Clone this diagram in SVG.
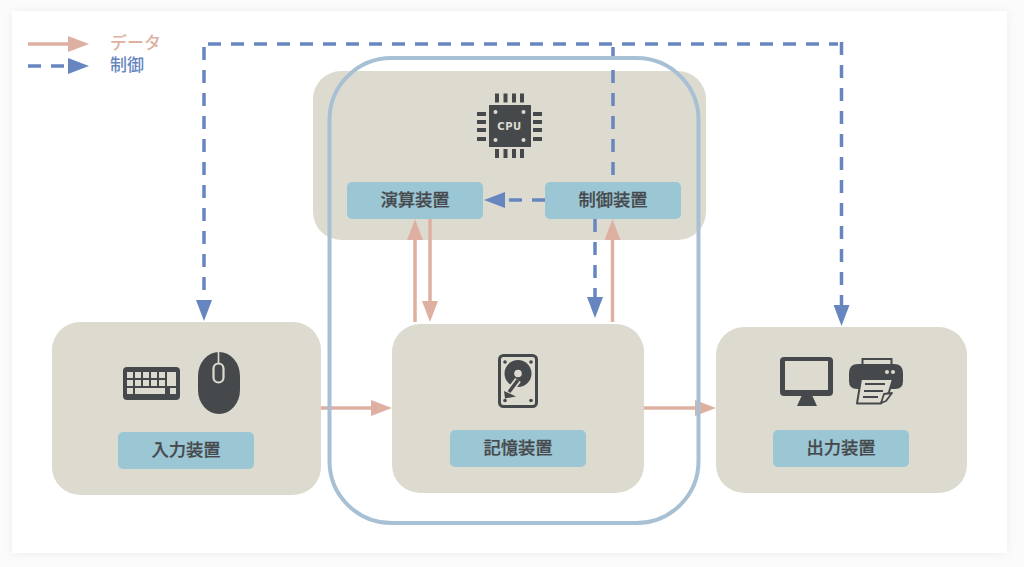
<svg xmlns="http://www.w3.org/2000/svg" width="1024" height="567" viewBox="0 0 1024 567">
<defs>
<filter id="sh" x="-5%" y="-5%" width="110%" height="110%"><feGaussianBlur stdDeviation="5"/></filter>
<marker id="ad" markerUnits="userSpaceOnUse" markerWidth="22" markerHeight="16" refX="0" refY="8" orient="auto"><path d="M0 0L21 8L0 16Z" fill="#deb0a2"/></marker>
<marker id="ac" markerUnits="userSpaceOnUse" markerWidth="22" markerHeight="16" refX="0" refY="8" orient="auto"><path d="M0 0L21 8L0 16Z" fill="#6786c0"/></marker>
</defs>
<style>
.box{fill:#dddbd0}
.lab{fill:#9bc6d4}
.t{font-family:"Noto Sans CJK JP","Noto Sans",sans-serif;font-size:17.3px;font-weight:500;fill:#46494c;stroke:#46494c;stroke-width:.25;text-anchor:middle}
.lg{font-family:"Noto Sans CJK JP","Noto Sans",sans-serif;font-size:17px;font-weight:500}
.d{fill:none;stroke:#deb0a2;stroke-width:3.5;marker-end:url(#ad)}
.c{fill:none;stroke:#6786c0;stroke-width:3.5;stroke-dasharray:13 10}
.m{marker-end:url(#ac)}
.i{fill:#46494c}
.k{fill:#dddbd0}
</style>
<rect width="1024" height="567" fill="#fbfbfb"/>
<rect x="12" y="11" width="995" height="542" fill="#000" opacity=".06" filter="url(#sh)"/>
<rect x="12" y="11" width="995" height="542" fill="#fff"/>

<g id="legend">
<path d="M28 44H68" class="d"/>
<path d="M28 66H68" class="c m"/>
<text x="110" y="49" class="lg" fill="#deb0a2">データ</text>
<text x="110" y="71" class="lg" fill="#6786c0">制御</text>
</g>

<g id="cpu">
<rect x="313" y="71" width="393" height="169" rx="28" class="box"/>
<g class="i">
<rect x="489" y="105" width="42" height="42"/>
<rect x="495" y="93.500" width="4" height="9"/><rect x="503.500" y="93.500" width="4" height="9"/><rect x="512" y="93.500" width="4" height="9"/><rect x="520" y="93.500" width="4" height="9"/>
<rect x="495" y="149" width="4" height="9"/><rect x="503.500" y="149" width="4" height="9"/><rect x="512" y="149" width="4" height="9"/><rect x="520" y="149" width="4" height="9"/>
<rect x="477" y="112" width="9" height="4"/><rect x="477" y="120" width="9" height="4"/><rect x="477" y="128" width="9" height="4"/><rect x="477" y="137" width="9" height="4"/>
<rect x="533" y="112" width="9" height="4"/><rect x="533" y="120" width="9" height="4"/><rect x="533" y="128" width="9" height="4"/><rect x="533" y="137" width="9" height="4"/>
</g>
<g class="k"><circle cx="495.500" cy="112" r="2"/><circle cx="523.500" cy="112" r="2"/><circle cx="495.500" cy="140" r="2"/><circle cx="523.500" cy="140" r="2"/></g>
<text x="509.500" y="130" font-family="DejaVu Sans,sans-serif" font-size="10" font-weight="700" letter-spacing=".6" fill="#dddbd0" text-anchor="middle">CPU</text>
</g>

<g id="input">
<rect x="52" y="322" width="269" height="173" rx="28" class="box"/>
<rect x="123" y="367" width="57" height="33" rx="4" class="i"/>
<g class="k">
<rect x="127" y="372" width="6" height="6"/><rect x="135" y="372" width="6" height="6"/><rect x="143" y="372" width="6" height="6"/><rect x="151" y="372" width="6" height="6"/><rect x="159" y="372" width="6" height="6"/>
<rect x="127" y="380" width="6" height="6"/><rect x="135" y="380" width="6" height="6"/><rect x="143" y="380" width="6" height="6"/><rect x="151" y="380" width="6" height="6"/><rect x="159" y="380" width="6" height="6"/>
<rect x="167" y="372" width="9" height="14"/>
<rect x="127" y="388" width="6" height="6"/><rect x="135" y="388" width="30" height="6"/><rect x="170" y="388" width="6" height="6"/>
</g>
<rect x="198" y="352" width="42" height="62" rx="21" ry="24" class="i"/>
<path d="M218.500 352V364" stroke="#dddbd0" stroke-width="1.600"/>
<rect x="213.500" y="363.500" width="10" height="19" rx="5" fill="#46494c" stroke="#dddbd0" stroke-width="2.200"/>
<rect x="118" y="432" width="136" height="37" rx="5" class="lab"/>
<text x="186" y="456" class="t">入力装置</text>
</g>

<g id="memory">
<rect x="392" y="324" width="252" height="169" rx="28" class="box"/>
<rect x="499.500" y="355.500" width="37" height="51" rx="4" fill="none" stroke="#46494c" stroke-width="3"/>
<circle cx="518" cy="373.500" r="13.500" class="i"/>
<circle cx="518" cy="373.500" r="3.800" class="k"/>
<path d="M518 380L509 392" stroke="#dddbd0" stroke-width="7"/>
<path d="M518 380L509 392" stroke="#46494c" stroke-width="3.500"/>
<path d="M504 391L505 398.500L516 396.500Z" class="i"/>
<g class="i"><circle cx="505" cy="362" r="1.800"/><circle cx="531" cy="362" r="1.800"/><circle cx="505" cy="400.500" r="1.800"/><circle cx="531" cy="400.500" r="1.800"/></g>
<rect x="450" y="430" width="136" height="37" rx="5" class="lab"/>
<text x="518" y="454" class="t">記憶装置</text>
</g>

<g id="output">
<rect x="716" y="327" width="251" height="166" rx="28" class="box"/>
<rect x="780" y="357" width="53" height="39" rx="4" class="i"/>
<rect x="785" y="361" width="43" height="29" class="k"/>
<path d="M802 395H812L817 406H797Z" class="i"/>
<rect x="862.500" y="359" width="29" height="9" fill="none" stroke="#46494c" stroke-width="2"/>
<path d="M858 364H894Q903 364 903 373V381Q903 389 895 389H857Q849 389 849 381V373Q849 364 858 364Z" class="i"/>
<g class="k"><circle cx="887" cy="372" r="2"/><circle cx="893" cy="372" r="2"/></g>
<path d="M861 379H893L889 392L881 403.500H857Z" fill="#dddbd0" stroke="#46494c" stroke-width="2" stroke-linejoin="round"/>
<path d="M865 384H885M864 391H883M863 397H878" stroke="#46494c" stroke-width="1.800"/>
<path d="M881 403L884 394L892 393L886 401Z" fill="#dddbd0" stroke="#46494c" stroke-width="1.800" stroke-linejoin="round"/>
<rect x="773" y="430" width="136" height="37" rx="5" class="lab"/>
<text x="841" y="454" class="t">出力装置</text>
</g>

<g id="alu"><rect x="347" y="182" width="136" height="37" rx="5" class="lab"/><text x="415" y="206" class="t">演算装置</text></g>
<g id="control"><rect x="545" y="182" width="136" height="37" rx="5" class="lab"/><text x="613" y="206" class="t">制御装置</text></g>

<g id="connectors">
<path d="M321 408H371" class="d"/>
<path d="M644 408H695" class="d"/>
<path d="M415 322V240" class="d"/>
<path d="M430 219V301" class="d"/>
<path d="M612.500 322V240" class="d"/>
<path d="M595 219V297" class="c m"/>
<path d="M545 200H505" class="c m"/>
<path d="M208 44H838" class="c"/>
<path d="M204 47V300" class="c m"/>
<path d="M613 47V182" class="c"/>
<path d="M841.500 42V305" class="c m"/>
</g>

<g id="cpu-frame"><rect x="329.500" y="58" width="369" height="465" rx="62" fill="none" stroke="#a8c0d4" stroke-width="4"/></g>
</svg>
